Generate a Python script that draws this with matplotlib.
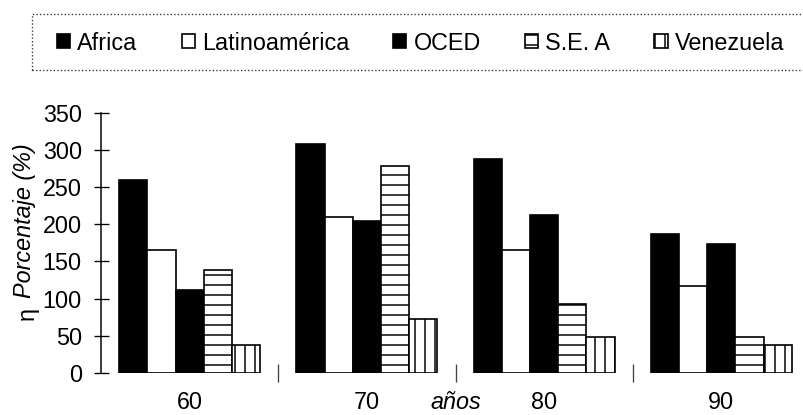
import numpy as np
import matplotlib
matplotlib.use("Agg")
import matplotlib.pyplot as plt
from matplotlib.patches import Rectangle

decades = ["60", "70", "80", "90"]
series = ["Africa", "Latinoamérica", "OCED", "S.E. A", "Venezuela"]
africa = [260, 308, 288, 187]
latino = [165, 210, 165, 117]
oced = [112, 204, 212, 174]
sea = [138, 279, 93, 49]
venezuela = [37, 72, 48, 38]
yticks = [0, 50, 100, 150, 200, 250, 300, 350]

values = [africa, latino, oced, sea, venezuela]
styles = [
    dict(facecolor="black", edgecolor="black", hatch=None),
    dict(facecolor="white", edgecolor="black", hatch=None),
    dict(facecolor="black", edgecolor="black", hatch=None),
    dict(facecolor="white", edgecolor="black", hatch="--"),
    dict(facecolor="white", edgecolor="black", hatch="||"),
]

plt.rcParams["font.family"] = ["Liberation Sans", "DejaVu Sans"]
plt.rcParams["hatch.linewidth"] = 0.9
plt.rcParams["hatch.color"] = "black"

DPI = 120
fig = plt.figure(figsize=(803 / DPI, 415 / DPI), dpi=DPI)
W, H = 803, 415
ax = fig.add_axes([101 / W, (H - 373) / H, 709 / W, (373 - 112.7) / H])

x = np.arange(len(decades))
bw = 0.159
handles = []
for i, (vals, st) in enumerate(zip(values, styles)):
    bars = ax.bar(x + (i - 2) * bw, vals, width=bw, linewidth=1.0, label=series[i], **st)
    handles.append(bars)

ax.set_xlim(-0.5, 3.5)
ax.set_ylim(0, 350)
ax.set_yticks(yticks)
ax.tick_params(axis="y", direction="inout", length=9, width=0.8, pad=7, labelsize=14)
ax.set_xticks(x)
ax.set_xticklabels(decades)
ax.set_xticks([0.5, 1.5, 2.5], minor=True)
ax.tick_params(axis="x", which="major", length=0, pad=11, labelsize=14)
ax.tick_params(axis="x", which="minor", direction="inout", length=11, width=0.8, color="#444444")
for s in ["top", "right", "bottom"]:
    ax.spines[s].set_visible(False)
ax.spines["left"].set_linewidth(0.9)

ax.annotate("años", xy=(1.5, 0), xycoords=("data", "axes fraction"),
            xytext=(0, -11), textcoords="offset points", ha="center", va="top",
            fontsize=14, fontstyle="italic")

fig.text(25 / W, 1 - 221 / H, "Porcentaje (%)", rotation=90, ha="center", va="center",
         fontsize=14, fontstyle="italic")
fig.text(27 / W, 1 - 313 / H, "η", rotation=90, ha="center", va="center", fontsize=14)

fig.patches.append(Rectangle((32 / W, 1 - 70 / H), 1.0, 56 / H, transform=fig.transFigure,
                             fill=False, linestyle=":", linewidth=0.8, edgecolor="#333333"))

fig.legend(handles=handles, labels=series, loc="center left",
           bbox_to_anchor=(57 / W, 1 - 43 / H), ncol=5, frameon=False,
           fontsize=14, borderpad=0, borderaxespad=0, handlelength=0.56,
           handleheight=0.56, handletextpad=0.3, columnspacing=1.90)

fig.savefig("out.png", dpi=DPI, facecolor="white")
